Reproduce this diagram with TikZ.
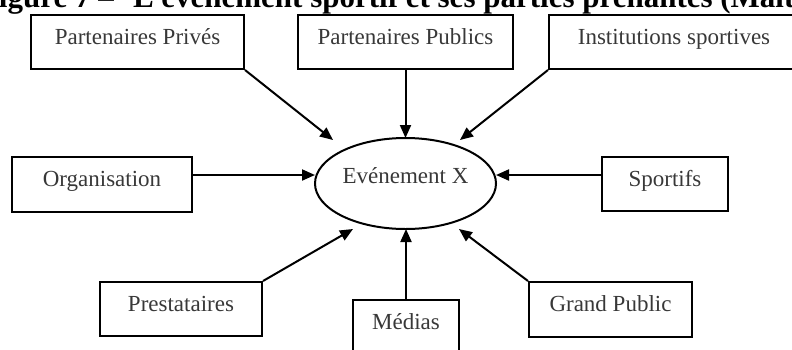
\documentclass[tikz,border=0pt]{standalone}
\usepackage{fontspec}
\setmainfont{Liberation Serif}
\usetikzlibrary{arrows.meta,shapes.geometric}
\begin{document}
\begin{tikzpicture}[x=1pt,y=-1pt,
  box/.style={draw=black,line width=2pt,rectangle,inner sep=0pt,
    text=black!78,font=\fontsize{23}{23}\selectfont,
    text height=14pt,text depth=10pt},
  ev/.style={draw=black,line width=2pt,ellipse,inner sep=0pt,
    minimum width=181pt,minimum height=91pt,
    text=black!78,font=\fontsize{23}{23}\selectfont,
    text height=12pt,text depth=12pt},
  arr/.style={line width=2pt,-{Triangle[length=13pt,width=11pt]}},
  ttl/.style={font=\fontsize{31}{31}\selectfont\bfseries,inner sep=0pt}
]
\useasboundingbox (0,0) rectangle (792,349);
% title (cut off at the top of the picture)
\node[ttl,anchor=base east] (tA) at (114,7.5) {Figure 7 –};
\node[ttl,anchor=base west] (tB) at (133,7.5) {L'événement sportif et ses parties prenantes (Maltese, 2006)};
% boxes
\node[box,minimum width=213pt,minimum height=54pt] (pp) at (137.5,42) {Partenaires Privés};
\node[box,minimum width=215pt,minimum height=54pt] (pub) at (405.5,42) {Partenaires Publics};
\node[box,minimum width=250pt,minimum height=54pt] (inst) at (674,42) {Institutions sportives};
\node[box,minimum width=180pt,minimum height=55pt] (org) at (102,184.5) {Organisation};
\node[box,minimum width=126pt,minimum height=54pt] (sport) at (665,184) {Sportifs};
\node[box,minimum width=162pt,minimum height=54pt] (prest) at (181,309) {Prestataires};
\node[box,minimum width=106pt,minimum height=54pt] (med) at (406,327) {Médias};
\node[box,minimum width=163pt,minimum height=55pt] (gp) at (610.5,309.5) {Grand Public};
% centre
\node[ev] (ev) at (405.5,183.5) {Evénement X};
% arrow tips
\coordinate (t1) at (333,140);
\coordinate (t2) at (405.5,138);
\coordinate (t3) at (460,140);
\coordinate (t4) at (315,175);
\coordinate (t5) at (496,175);
\coordinate (t6) at (353,229);
\coordinate (t7) at (406,229);
\coordinate (t8) at (459,229);
% connectors
\draw[arr] (pp.south east) -- (t1);
\draw[arr] (pub.south) -- (t2);
\draw[arr] (inst.south west) -- (t3);
\draw[arr] (org.east |- t4) -- (t4);
\draw[arr] (sport.west |- t5) -- (t5);
\draw[arr] (prest.north east) -- (t6);
\draw[arr] (med.north) -- (t7);
\draw[arr] (gp.north west) -- (t8);
\end{tikzpicture}
\end{document}
